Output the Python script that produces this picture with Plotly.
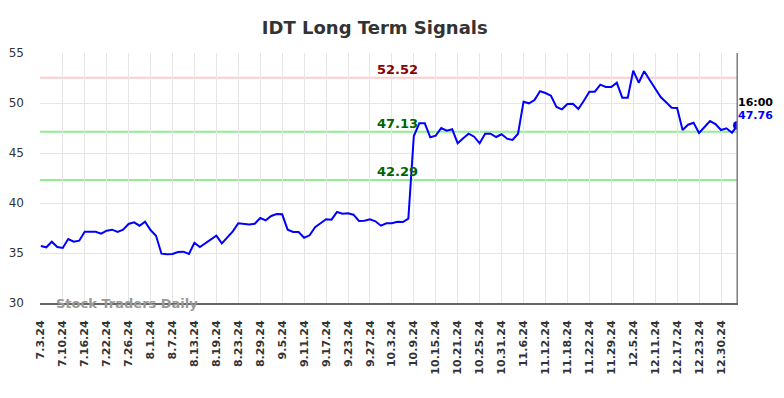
import pandas as pd
import plotly.graph_objects as go

# Trading days (category axis)
holidays = ["2024-07-04", "2024-09-02", "2024-11-28", "2024-12-25", "2025-01-01"]
days = pd.bdate_range("2024-07-03", "2025-01-03", freq="C", holidays=holidays)
dates = [f"{d.month}.{d.day}.{d.strftime('%y')}" for d in days]

prices = [
    35.70, 35.57, 36.13, 35.60, 35.50, 36.40, 36.13, 36.23, 37.13, 37.13,
    37.13, 36.93, 37.23, 37.33, 37.10, 37.33, 37.90, 38.07, 37.73, 38.13,
    37.30, 36.73, 34.93, 34.87, 34.90, 35.10, 35.13, 34.90, 36.03, 35.60,
    35.97, 36.27, 36.73, 35.97, 36.53, 37.17, 37.97, 37.90, 37.85, 37.93,
    38.50, 38.27, 38.70, 38.90, 38.87, 37.33, 37.10, 37.10, 36.53, 36.77,
    37.57, 37.97, 38.37, 38.33, 39.10, 38.93, 38.97, 38.83, 38.20, 38.23,
    38.37, 38.17, 37.73, 37.97, 37.97, 38.13, 38.10, 38.43, 46.70, 47.97,
    47.97, 46.57, 46.73, 47.50, 47.23, 47.37, 45.97, 46.47, 46.93, 46.63,
    45.97, 46.93, 46.93, 46.60, 46.87, 46.43, 46.30, 46.93, 50.13, 49.97,
    50.30, 51.17, 51.00, 50.73, 49.60, 49.37, 49.90, 49.93, 49.40, 50.23,
    51.13, 51.13, 51.83, 51.60, 51.60, 52.03, 50.53, 50.53, 53.23, 52.03,
    53.17, 52.30, 51.47, 50.60, 50.07, 49.53, 49.50, 47.30, 47.83, 48.03,
    47.00, 47.63, 48.20, 47.90, 47.30, 47.47, 47.03, 47.76,
]

resistance = 52.52
support_levels = [47.13, 42.29]
last_time = "16:00"
tick_dates = dates[::4]
y_ticks = [30, 35, 40, 45, 50, 55]

FONT = "DejaVu Sans"
fig = go.Figure()

fig.add_trace(go.Scatter(
    x=dates, y=prices, mode="lines",
    line=dict(color="#0000ff", width=2), hoverinfo="skip", showlegend=False,
))
fig.add_trace(go.Scatter(
    x=[dates[-1]], y=[prices[-1]], mode="markers",
    marker=dict(color="#0000ff", size=9), showlegend=False, hoverinfo="skip",
))

# horizontal signal lines
fig.add_hline(y=resistance, line=dict(color="#ffcccc", width=2), layer="below")
for s in support_levels:
    fig.add_hline(y=s, line=dict(color="#90ee90", width=2), layer="below")

label_x = dates[65]
fig.add_annotation(x=label_x, y=resistance, text=f"<b>{resistance:.2f}</b>", showarrow=False,
                   yanchor="bottom", yshift=-1, font=dict(family=FONT, size=13, color="#8b0000"))
for s in support_levels:
    fig.add_annotation(x=label_x, y=s, text=f"<b>{s:.2f}</b>", showarrow=False,
                       yanchor="bottom", yshift=-1, font=dict(family=FONT, size=13, color="#006400"))

# right-end vertical line
fig.add_shape(type="line", x0=dates[-1], x1=dates[-1], y0=0, y1=1, yref="paper",
              line=dict(color="#808080", width=2))

fig.add_annotation(x=dates[-1], y=50.03, text=f"<b>{last_time}</b>", showarrow=False,
                   xanchor="left", xshift=-1, font=dict(family=FONT, size=11, color="#000000"))
fig.add_annotation(x=dates[-1], y=48.73, text=f"<b>{prices[-1]:.2f}</b>", showarrow=False,
                   xanchor="left", xshift=-1, font=dict(family=FONT, size=11, color="#0000ff"))

fig.add_annotation(xref="paper", yref="paper", x=0.02, y=0.0, text="<b>Stock Traders Daily</b>",
                   showarrow=False, xanchor="left", yanchor="middle",
                   font=dict(family=FONT, size=13, color="#999999"))

fig.update_layout(
    width=784, height=398,
    margin=dict(l=40, r=46, t=53, b=95),
    paper_bgcolor="white", plot_bgcolor="white",
    title=dict(text="<b>IDT Long Term Signals</b>", xref="container", x=0.478, xanchor="center",
               yref="container", y=1 - 27.5 / 398, yanchor="middle",
               font=dict(family=FONT, size=18, color="#333333")),
    font=dict(family=FONT, color="#333333"),
)
fig.update_xaxes(
    type="category", range=[-0.15, len(dates) - 0.9], automargin=False,
    tickmode="array", tickvals=tick_dates, ticktext=[f"<b>{t}</b>" for t in tick_dates],
    tickangle=-90, tickfont=dict(family=FONT, size=11, color="#333333"),
    ticklabelstandoff=11,
    showgrid=True, gridcolor="#e6e6e6", gridwidth=1,
    showline=True, linecolor="#666666", linewidth=2, ticks="", zeroline=False,
)
fig.update_yaxes(
    range=[30, 55], tickvals=y_ticks, automargin=False,
    tickfont=dict(family=FONT, size=12, color="#333333"),
    ticklabelstandoff=15,
    showgrid=True, gridcolor="#e6e6e6", gridwidth=1, zeroline=False, ticks="",
)

fig.write_html("out.html", config={"displayModeBar": False},
               post_script="document.body.style.margin='0';")
